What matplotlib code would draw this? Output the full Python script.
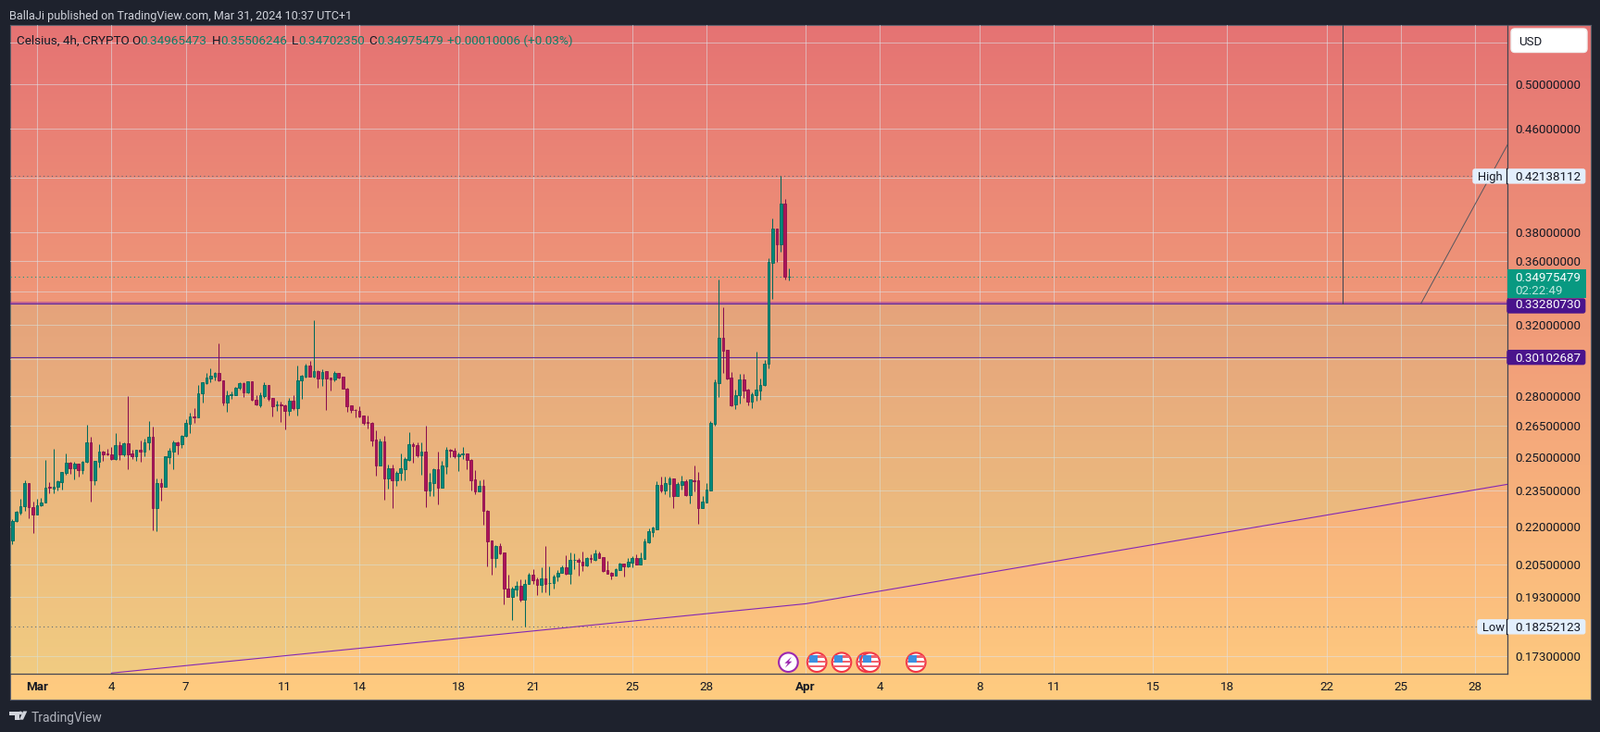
import numpy as np
import matplotlib
matplotlib.use("Agg")
import matplotlib.pyplot as plt
from matplotlib.patches import Circle, Rectangle, FancyBboxPatch, Polygon
from matplotlib.ticker import NullLocator

# ---- data -------------------------------------------------------------
opens = [
 .2143,.2221,.2257,.2284,.2382,.2281,.2249,.2287,.2300,.2366,.2359,.2366,.2388,.2430,.2474,.2451,.2470,.2441,.2479,.2569,
 .2396,.2480,.2528,.2517,.2512,.2493,.2556,.2515,.2565,.2517,.2507,.2534,.2528,.2569,.2596,.2276,.2382,.2367,.2502,.2528,
 .2569,.2561,.2601,.2662,.2696,.2694,.2814,.2870,.2896,.2906,.2923,.2882,.2769,.2808,.2808,.2846,.2868,.2821,.2878,.2781,
 .2755,.2803,.2858,.2790,.2755,.2758,.2752,.2727,.2776,.2741,.2882,.2906,.2964,.2906,.2933,.2896,.2933,.2898,.2887,.2923,
 .2903,.2838,.2752,.2730,.2724,.2700,.2669,.2665,.2583,.2464,.2574,.2405,.2452,.2396,.2428,.2447,.2489,.2563,.2556,.2511,
 .2525,.2351,.2384,.2445,.2363,.2459,.2536,.2530,.2507,.2515,.2517,.2487,.2398,.2347,.2373,.2262,.2142,.2074,.2120,.2095,
 .1961,.1929,.1955,.1971,.1918,.1977,.2009,.1992,.1972,.1998,.1980,.1980,.2004,.2017,.2037,.2013,.2066,.2068,.2061,.2045,
 .2073,.2066,.2091,.2077,.2027,.2017,.2006,.2027,.2051,.2041,.2055,.2073,.2048,.2069,.2134,.2175,.2187,.2377,.2350,.2378,
 .2403,.2326,.2375,.2391,.2330,.2395,.2395,.2275,.2298,.2350,.2660,.2872,.3120,.3052,.2898,.2757,.2805,.2889,.2834,.2774,
 .2808,.2832,.2858,.2974,.3590,.3822,.3716,.4006,.34965]
highs = [
 .2228,.2262,.2314,.2395,.2383,.2305,.2314,.2318,.2488,.2387,.2540,.2395,.2433,.2518,.2478,.2478,.2471,.2482,.2655,.2597,
 .2486,.2562,.2530,.2540,.2549,.2615,.2575,.2569,.2801,.2536,.2537,.2580,.2589,.2674,.2646,.2404,.2404,.2504,.2544,.2578,
 .2575,.2605,.2683,.2716,.2739,.2860,.2875,.2925,.2950,.2930,.3090,.2882,.2829,.2824,.2850,.2875,.2873,.2879,.2878,.2806,
 .2819,.2875,.2862,.2793,.2776,.2774,.2757,.2792,.2806,.2965,.2915,.2974,.2991,.3225,.2940,.2945,.2933,.2899,.2933,.2923,
 .2903,.2843,.2752,.2733,.2747,.2700,.2700,.2669,.2629,.2588,.2602,.2469,.2465,.2436,.2517,.2501,.2622,.2569,.2569,.2571,
 .2651,.2428,.2449,.2527,.2484,.2547,.2540,.2543,.2521,.2547,.2517,.2491,.2440,.2394,.2398,.2266,.2142,.2126,.2131,.2095,
 .2010,.1967,.1985,.1993,.1993,.2019,.2030,.2002,.2037,.2120,.2041,.2012,.2027,.2045,.2083,.2097,.2091,.2073,.2098,.2076,
 .2088,.2105,.2098,.2078,.2062,.2020,.2034,.2055,.2052,.2073,.2080,.2088,.2095,.2150,.2190,.2198,.2391,.2412,.2412,.2412,
 .2404,.2387,.2416,.2399,.2399,.2462,.2433,.2326,.2383,.2674,.2889,.3481,.3303,.3053,.2928,.2835,.2920,.2920,.2840,.2820,
 .3043,.2894,.2994,.3620,.3897,.3822,.42138,.4040,.35506]
lows = [
 .2128,.2218,.2249,.2263,.2232,.2172,.2249,.2284,.2300,.2338,.2338,.2350,.2354,.2422,.2425,.2399,.2412,.2425,.2475,.2302,
 .2375,.2454,.2482,.2508,.2488,.2488,.2488,.2505,.2445,.2493,.2484,.2479,.2505,.2536,.2182,.2179,.2306,.2367,.2471,.2445,
 .2514,.2544,.2597,.2616,.2663,.2694,.2769,.2865,.2876,.2884,.2881,.2755,.2722,.2787,.2805,.2836,.2797,.2816,.2779,.2754,
 .2744,.2792,.2779,.2698,.2727,.2671,.2634,.2702,.2730,.2703,.2789,.2901,.2906,.2901,.2846,.2856,.2731,.2832,.2878,.2896,
 .2838,.2722,.2717,.2694,.2694,.2657,.2639,.2555,.2418,.2464,.2311,.2359,.2276,.2372,.2396,.2396,.2485,.2476,.2502,.2422,
 .2280,.2327,.2327,.2291,.2363,.2426,.2502,.2498,.2437,.2493,.2447,.2351,.2335,.2347,.2206,.2042,.2010,.2039,.2088,.1903,
 .1929,.1847,.1932,.1912,.1825,.1977,.1975,.1935,.1945,.1945,.1935,.1958,.1985,.2017,.2010,.1976,.2030,.2006,.2024,.2041,
 .2055,.2062,.2073,.2020,.2013,.1993,.2006,.2027,.2003,.2038,.2038,.2048,.2048,.2069,.2131,.2157,.2187,.2342,.2334,.2322,
 .2275,.2326,.2354,.2326,.2294,.2346,.2209,.2275,.2298,.2350,.2651,.2797,.2926,.2887,.2750,.2733,.2765,.2792,.2753,.2741,
 .2779,.2784,.2856,.2952,.3358,.3597,.3665,.3476,.34702]
closes = [
 .2223,.2258,.2285,.2382,.2280,.2249,.2288,.2301,.2365,.2362,.2369,.2390,.2432,.2474,.2451,.2470,.2441,.2480,.2569,.2396,
 .2482,.2525,.2515,.2512,.2492,.2556,.2515,.2565,.2515,.2507,.2534,.2528,.2569,.2596,.2276,.2382,.2367,.2504,.2530,.2569,
 .2558,.2600,.2663,.2697,.2694,.2814,.2873,.2898,.2908,.2925,.2882,.2769,.2805,.2811,.2843,.2868,.2822,.2878,.2781,.2757,
 .2805,.2858,.2789,.2750,.2758,.2755,.2727,.2776,.2741,.2882,.2908,.2964,.2906,.2933,.2896,.2928,.2896,.2887,.2923,.2901,
 .2838,.2750,.2729,.2729,.2697,.2667,.2667,.2581,.2464,.2574,.2405,.2452,.2396,.2428,.2449,.2491,.2561,.2555,.2511,.2525,
 .2351,.2386,.2445,.2363,.2461,.2534,.2533,.2507,.2512,.2517,.2487,.2396,.2347,.2373,.2262,.2140,.2074,.2120,.2091,.1959,
 .1929,.1958,.1971,.1919,.1978,.2009,.1991,.1972,.1998,.1976,.1981,.2005,.2019,.2037,.2013,.2068,.2068,.2058,.2045,.2073,
 .2071,.2091,.2073,.2024,.2013,.2007,.2030,.2052,.2041,.2059,.2073,.2048,.2073,.2139,.2179,.2194,.2377,.2350,.2383,.2404,
 .2326,.2378,.2391,.2330,.2399,.2392,.2275,.2302,.2354,.2665,.2873,.3120,.3050,.2896,.2755,.2805,.2889,.2832,.2774,.2809,
 .2834,.2858,.2974,.3595,.3822,.3716,.4006,.3495,.34975]
first_bar_day = -1.0
bars_per_day = 6.0

price_ticks = [0.54, 0.50, 0.46, 0.42, 0.38, 0.36, 0.34, 0.32, 0.30, 0.28, 0.265, 0.25, 0.235, 0.22, 0.205, 0.193, 0.173]
price_labels = ["", "0.50000000", "0.46000000", "", "0.38000000", "0.36000000", "", "0.32000000", "", "0.28000000",
                "0.26500000", "0.25000000", "0.23500000", "0.22000000", "0.20500000", "0.19300000", "0.17300000"]
day_ticks = [0, 3, 6, 10, 13, 17, 20, 24, 27, 31, 34, 38, 41, 45, 48, 52, 55, 58]
day_labels = ["Mar", "4", "7", "11", "14", "18", "21", "25", "28", "Apr", "4", "8", "11", "15", "18", "22", "25", "28"]

high_price, low_price = 0.42138112, 0.18252123
last_price = 0.34975479
level_upper, level_lower = 0.33280730, 0.30102687
level_band_top = 0.3337
trend_days = [3.0, 31.0, 59.3]
trend_prices = [0.1675, 0.1905, 0.2378]
ray_days = [55.82, 59.3]
ray_prices = [0.33280730, 0.4466]
vline_day = 52.66
flash_event_day = [30.3]
flag_event_days = [31.45, 32.45, 33.6, 33.45, 35.45]

# ---- layout -----------------------------------------------------------
W, H = 1728, 791
DARK = "#1e222d"
INK = "#131722"
FONT = "Roboto"
plt.rcParams["font.family"] = FONT

fig = plt.figure(figsize=(W / 100, H / 100), dpi=100, facecolor=DARK)


def rect(x0, y0, x1, y1):
    return [x0 / W, 1 - y1 / H, (x1 - x0) / W, (y1 - y0) / H]


# gradient back panel (chart + both axes)
bg = fig.add_axes(rect(11, 27, 1718, 756), zorder=0)
top_c = np.array(matplotlib.colors.to_rgb("#e57373"))
bot_c = np.array(matplotlib.colors.to_rgb("#ffcc80"))
ramp = np.linspace(0, 1, 400)[:, None, None]
bg.imshow(top_c[None, None, :] * (1 - ramp) + bot_c[None, None, :] * ramp, aspect="auto", extent=[0, 1, 0, 1])
bg.set_xticks([]); bg.set_yticks([])
for s in bg.spines.values():
    s.set_color("#5d606b"); s.set_linewidth(0.8)

# main chart
ax = fig.add_axes(rect(11, 27, 1628, 728), zorder=1)
ax.patch.set_alpha(0)
ax.set_yscale("log")
ax.set_xlim(-1.083, 59.3)
ax.set_ylim(0.1673, 0.558)
ax.yaxis.tick_right()
ax.set_yticks(price_ticks, labels=price_labels)
ax.yaxis.set_minor_locator(NullLocator())
ax.set_xticks(day_ticks, labels=day_labels)
ax.tick_params(axis="both", length=0, labelsize=9.6, labelcolor=INK)
ax.tick_params(axis="y", pad=6.2)
ax.tick_params(axis="x", pad=6.0)
for lab in ax.get_xticklabels():
    if lab.get_text() in ("Mar", "Apr"):
        lab.set_fontweight("bold")
ax.grid(True, color="#dfe2e8", alpha=0.55, lw=0.75)
ax.set_axisbelow(True)
for side in ("top", "left"):
    ax.spines[side].set_visible(False)
for side in ("right", "bottom"):
    ax.spines[side].set_color("#434651"); ax.spines[side].set_linewidth(0.9)

# tinted zone between upper level and trend line
xl, xr = ax.get_xlim()
ymin = ax.get_ylim()[0]
ax.add_patch(Polygon([(xl, level_upper), (xr, level_upper), (trend_days[2], trend_prices[2]),
                      (trend_days[1], trend_prices[1]), (trend_days[0], trend_prices[0]), (xl, ymin)],
                     closed=True, fc="#b4dc8c", ec="none", alpha=0.17, zorder=1))

# levels and drawings
ax.axhspan(level_upper, level_band_top, color="#8e24aa", alpha=0.45, lw=0, zorder=2)
ax.axhline(level_upper, color="#5e2a9e", lw=0.8, zorder=2.1)
ax.axhline(level_lower, color="#5e2a9e", lw=0.8, zorder=2.1)
ax.plot(trend_days, trend_prices, color="#8428b4", lw=0.8, zorder=2.1)
ax.plot([vline_day, vline_day], [level_upper, ax.get_ylim()[1]], color="#434651", lw=0.75, zorder=2.1)
ax.plot(ray_days, ray_prices, color="#54565e", lw=0.7, zorder=2.1)

DOT = (0, (1, 3))
ax.axhline(high_price, color="#5d6b78", lw=0.8, ls=DOT, zorder=2.2)
ax.axhline(low_price, color="#5d6b78", lw=0.8, ls=DOT, zorder=2.2)
ax.axhline(last_price, color="#089981", lw=0.8, ls=DOT, zorder=2.2)

# candles
o, h, l, c = map(np.array, (opens, highs, lows, closes))
t = first_bar_day + np.arange(len(o)) / bars_per_day
up = c >= o
UP_F, UP_E, DN_F, DN_E = "#00897b", "#00695c", "#ad1457", "#880e4f"
ax.vlines(t[up], l[up], h[up], color=UP_E, lw=0.75, zorder=3)
ax.vlines(t[~up], l[~up], h[~up], color=DN_E, lw=0.75, zorder=3)
ax.bar(t[up], (c - o)[up], bottom=o[up], width=0.1, color=UP_F, edgecolor=UP_E, lw=0.6, zorder=4)
ax.bar(t[~up], (o - c)[~up], bottom=c[~up], width=0.1, color=DN_F, edgecolor=DN_E, lw=0.6, zorder=4)

# overlay in pixel space for labels and furniture
ch = fig.add_axes([0, 0, 1, 1], zorder=5)
ch.set_xlim(0, W); ch.set_ylim(H, 0); ch.axis("off"); ch.patch.set_alpha(0)


def py(price):
    return H - ax.transData.transform((0, price))[1]


def px(day):
    return ax.transData.transform((day, 0.3))[0]


def tag(price, text, fc, tc, y0=None, y1=None):
    yc = py(price)
    y0 = yc - 8.5 if y0 is None else y0
    y1 = yc + 8.5 if y1 is None else y1
    ch.add_patch(FancyBboxPatch((1628, y0 + 1), 83.7, y1 - y0 - 2, boxstyle="round,pad=0,rounding_size=2",
                                fc=fc, ec=fc, lw=1))
    ch.text(1636.7, yc, text, color=tc, fontsize=9.6, va="center_baseline", ha="left")


# header
ch.text(10, 16.5, "BallaJi published on TradingView.com, Mar 31, 2024 10:37 UTC+1", color="#d1d4dc",
        fontsize=9.05, va="center_baseline")

# OHLC legend
LEG = 42.8
GREEN_T = "#0f7a64"
for x, s, col in [(17.5, "Celsius, 4h, CRYPTO", INK), (142, "O", INK), (151, "0.34965473", GREEN_T),
                  (229, "H", INK), (238, "0.35506246", GREEN_T), (315, "L", INK), (322, "0.34702350", GREEN_T),
                  (398.5, "C", INK), (407.5, "0.34975479", GREEN_T), (483, "+0.00010006 (+0.03%)", GREEN_T)]:
    ch.text(x, LEG, s, color=col, fontsize=9.7, va="center_baseline")

# USD button
ch.add_patch(FancyBboxPatch((1632, 31), 82, 25.5, boxstyle="round,pad=0,rounding_size=4", fc="white", ec="#f2f2f2", lw=1))
ch.text(1640, 44, "USD", color=INK, fontsize=9.6, va="center_baseline")

# side tags
PALE = "#e3effd"
for name, price, x0 in [("High", high_price, 1591), ("Low", low_price, 1596)]:
    yc = py(price)
    ch.add_patch(FancyBboxPatch((x0, yc - 7.5), 1628 - x0, 15, boxstyle="round,pad=0,rounding_size=2", fc=PALE, ec=PALE, lw=1))
    ch.text(x0 + 5, yc, name, color=INK, fontsize=9.3, va="center_baseline")
    ch.plot([1627, 1627], [yc - 8, yc + 8], color=INK, lw=0.9)
    tag(price, f"{price:.8f}", PALE, INK)

ch.add_patch(Rectangle((1628, 291), 84.7, 31, fc="#089981", ec="none"))
ch.text(1636.7, py(last_price), f"{last_price:.8f}", color="white", fontsize=9.6, va="center_baseline")
ch.text(1636.7, 313.5, "02:22:49", color="#bfe8df", fontsize=9.6, va="center_baseline")
tag(level_upper, f"{level_upper:.8f}", "#4a148c", "white", 322, 339)
tag(level_lower, f"{level_lower:.8f}", "#4a148c", "white")

# event icons
ICON_Y, R = 715.7, 10.3


def flag_icon(xc, z):
    ring = Circle((xc, ICON_Y), R, fc="white", ec="#f23645", lw=1.5, zorder=z)
    ch.add_patch(ring)
    stripes = [(-7.5, 2.5, "#f0616d"), (-2.0, 2.5, "#f0616d"), (3.2, 2.5, "#f0616d")]
    for dy, hh, col in stripes:
        r = Rectangle((xc - R, ICON_Y + dy), 2 * R, hh, fc=col, ec="none", zorder=z + 0.1)
        ch.add_patch(r); r.set_clip_path(ring)
    r = Rectangle((xc - 8, ICON_Y - 8), 9, 8, fc="#3d8fe0", ec="none", zorder=z + 0.2)
    ch.add_patch(r); r.set_clip_path(ring)


for i, d in enumerate(flag_event_days):
    flag_icon(px(d), 10 + (0 if i == 3 else 1 if i != 2 else 2) * 2)

xc = px(flash_event_day[0])
ch.add_patch(Circle((xc, ICON_Y), R, fc="white", ec="#9c27b0", lw=1.5, zorder=10))
ch.add_patch(Polygon([(xc + 3.5, ICON_Y - 6), (xc - 4, ICON_Y + 1), (xc - 0.5, ICON_Y + 1), (xc - 3.5, ICON_Y + 6),
                      (xc + 4, ICON_Y - 1), (xc + 0.5, ICON_Y - 1)], closed=True, fc="#9c27b0", ec="none", zorder=10.1))

# TradingView logo and word mark
LOGO = "#d1d4dc"
ch.add_patch(Polygon([(10, 768.5), (20.5, 768.5), (20.5, 777.7), (15.5, 777.7), (15.5, 772.5), (10, 772.5)], closed=True, fc=LOGO, ec="none"))
ch.add_patch(Circle((22.2, 770.5), 1.9, fc=LOGO, ec="none"))
ch.add_patch(Polygon([(25, 768.5), (29.3, 768.5), (25, 777.7), (20.8, 777.7)], closed=True, fc=LOGO, ec="none"))
ch.text(33.5, 774.5, "TradingView", color="#b2b5be", fontsize=9.9, va="center_baseline")

fig.savefig("out.png", dpi=100, facecolor=DARK)
